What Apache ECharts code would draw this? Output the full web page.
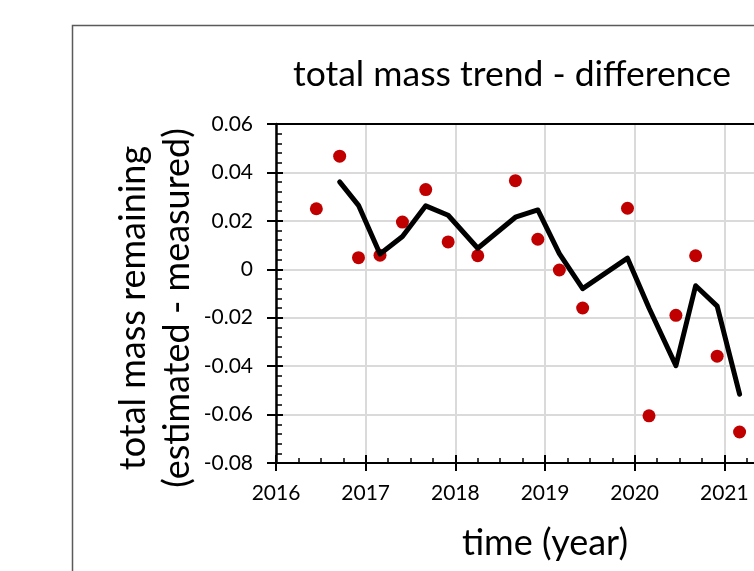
<!DOCTYPE html>
<html>
<head>
<meta charset="utf-8">
<script src="https://cdn.jsdelivr.net/npm/echarts@6/dist/echarts.min.js"></script>
<style>
  html, body { margin: 0; padding: 0; background: #fff; }
  #chart { width: 754px; height: 571px; }
</style>
</head>
<body>
<div id="chart"></div>
<script>
// sample dates (decimal year) and measured difference
const sampleDates = [2016.45, 2016.71, 2016.92, 2017.16, 2017.41, 2017.67, 2017.92, 2018.25, 2018.67,
  2018.92, 2019.16, 2019.42, 2019.92, 2020.16, 2020.46, 2020.68, 2020.92, 2021.17]
const diffValues = [0.0250, 0.0467, 0.0048, 0.0058, 0.0195, 0.0329, 0.0113, 0.0056, 0.0366,
  0.0124, -0.0003, -0.0160, 0.0252, -0.0605, -0.0190, 0.0056, -0.0359, -0.0672]
// black trend line (no value at the first date)
const trendValues = [null, 0.0361, 0.0264, 0.0063, 0.0135, 0.0262, 0.0223, 0.0087, 0.0215,
  0.0245, 0.0065, -0.0080, 0.0046, -0.0160, -0.0398, -0.0068, -0.0152, -0.0516]

const FONT = 'Lato'

const chart = echarts.init(document.getElementById('chart'), null, { renderer: 'canvas' })

const scatterData = sampleDates.map((d, i) => [d, diffValues[i]])
const trendData = sampleDates.map((d, i) => [d, trendValues[i]]).filter(p => p[1] !== null)

const yLabel = (v) => (Math.abs(v) < 1e-9 ? '0' : v.toFixed(2))

const gridLine = { show: true, lineStyle: { color: '#dadada', width: 2 } }

chart.setOption({
  animation: false,
  backgroundColor: '#fff',
  title: {
    text: 'total mass trend - difference',
    left: 507, top: 52, textAlign: 'center',
    textStyle: { fontFamily: FONT, fontSize: 35.5, fontWeight: 'normal', color: '#000' }
  },
  // plot runs past the right edge of the picture, like the cropped original
  grid: { left: 276, top: 124, width: 538, height: 339, containLabel: false, outerBoundsMode: 'none' },
  xAxis: [
    {
      type: 'value', min: 2016, max: 2022, interval: 1,
      name: 'time (year)', nameLocation: 'middle', nameGap: 62,
      nameTextStyle: { fontFamily: FONT, fontSize: 36, color: '#000' },
      axisLine: { onZero: false, lineStyle: { color: '#000', width: 2 } },
      axisTick: { inside: false, length: 8, lineStyle: { color: '#000', width: 2 } },
      axisLabel: { margin: 20, fontFamily: FONT, fontSize: 21, color: '#000', formatter: v => String(v) },
      splitLine: gridLine
    },
    {
      // inner half of the crossing ticks plus quarter-year minor ticks
      type: 'value', min: 2016, max: 2022, interval: 1, position: 'bottom',
      axisLine: { show: false, onZero: false },
      axisTick: { inside: true, length: 8, lineStyle: { color: '#000', width: 2 } },
      minorTick: { show: true, splitNumber: 4, length: 5, lineStyle: { color: '#000', width: 1.5 } },
      axisLabel: { show: false },
      splitLine: { show: false }
    },
    {
      type: 'value', min: 2016, max: 2022, interval: 1, position: 'top',
      axisLine: { onZero: false, lineStyle: { color: '#000', width: 2 } },
      axisTick: { show: false },
      axisLabel: { show: false },
      splitLine: { show: false }
    }
  ],
  yAxis: [
    {
      type: 'value', min: -0.08, max: 0.06, interval: 0.02,
      axisLine: { show: true, onZero: false, lineStyle: { color: '#000', width: 2.5 } },
      axisTick: { show: true, inside: false, length: 9, lineStyle: { color: '#000', width: 2 } },
      axisLabel: { margin: 23, fontFamily: FONT, fontSize: 21, color: '#000', formatter: yLabel },
      splitLine: gridLine
    },
    {
      type: 'value', min: -0.08, max: 0.06, interval: 0.02, position: 'left',
      axisLine: { show: false, onZero: false },
      axisTick: { show: true, inside: true, length: 7, lineStyle: { color: '#000', width: 2 } },
      minorTick: { show: true, splitNumber: 5, length: 6, lineStyle: { color: '#000', width: 1.5 } },
      axisLabel: { show: false },
      splitLine: { show: false }
    }
  ],
  graphic: [
    {
      type: 'rect', silent: true, z: -1,
      shape: { x: 72.5, y: 25.5, width: 900, height: 700 },
      style: { fill: 'none', stroke: '#5a5a5a', lineWidth: 1.5 }
    },
    {
      type: 'text', x: 133, y: 308, rotation: Math.PI / 2,
      style: { text: 'total mass remaining', fontFamily: FONT, fontSize: 36, fill: '#000', align: 'center', verticalAlign: 'middle' }
    },
    {
      type: 'text', x: 177, y: 308, rotation: Math.PI / 2,
      style: { text: '(estimated - measured)', fontFamily: FONT, fontSize: 36, fill: '#000', align: 'center', verticalAlign: 'middle' }
    }
  ],
  series: [
    {
      name: 'difference', type: 'scatter', xAxisIndex: 0, yAxisIndex: 0,
      symbol: 'circle', symbolSize: 13,
      itemStyle: { color: '#c00000', opacity: 1 },
      data: scatterData, z: 2
    },
    {
      name: 'trend', type: 'line', xAxisIndex: 0, yAxisIndex: 0,
      symbol: 'none', smooth: false,
      lineStyle: { color: '#000', width: 5, join: 'round', cap: 'round' },
      data: trendData, z: 3
    }
  ]
})
</script>
</body>
</html>
